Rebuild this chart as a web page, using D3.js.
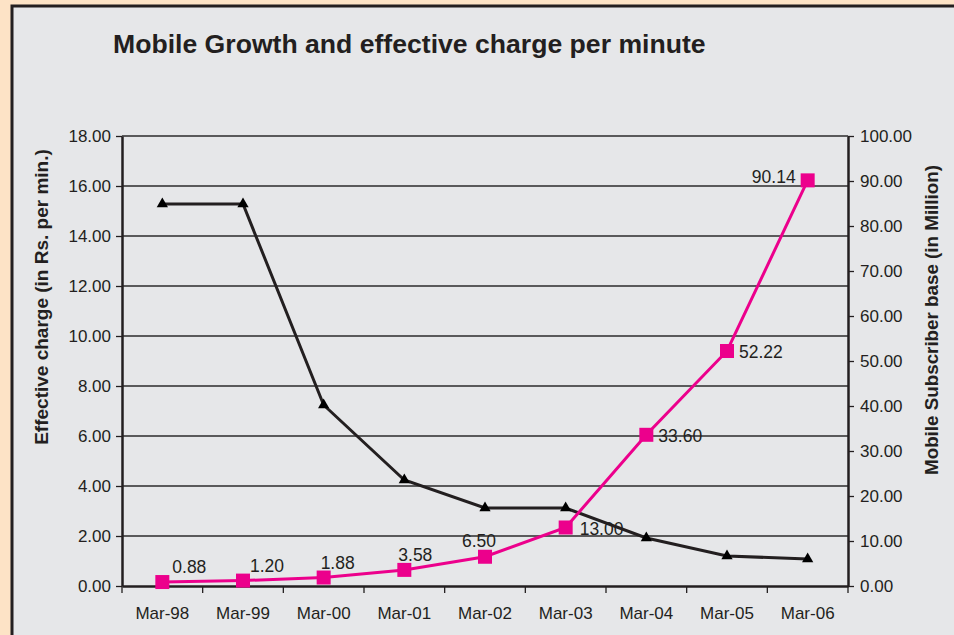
<!DOCTYPE html>
<meta charset="utf-8">
<script src="https://d3js.org/d3.v7.min.js"></script>
<style>
  body { margin: 0; background: #fde3c6; }
  text { font-family: "Liberation Sans", Arial, sans-serif; }
</style>
<div id="chart"></div>
<script>

var months = ["Mar-98", "Mar-99", "Mar-00", "Mar-01", "Mar-02", "Mar-03", "Mar-04", "Mar-05", "Mar-06"];
var effectiveCharge = [15.28, 15.28, 7.24, 4.24, 3.12, 3.12, 1.92, 1.2, 1.08];
var subscribers = [0.88, 1.20, 1.88, 3.58, 6.50, 13.00, 33.60, 52.22, 90.14];
var leftTicks = [0, 2, 4, 6, 8, 10, 12, 14, 16, 18];
var rightTicks = [0, 10, 20, 30, 40, 50, 60, 70, 80, 90, 100];

// label placement (dx, dy, anchor) per point
var labelDx = [27, 24, 14, 11, -6, 14, 12, 12, -12];
var labelDy = [-9, -9, -9, -9, -10, 7, 7, 7, 3];
var labelAnchor = ["middle", "middle", "middle", "middle", "middle", "start", "start", "start", "end"];

var W = 954, H = 635;
var margin = {top: 136, right: 106, bottom: 49, left: 122};
var width = W - margin.left - margin.right,
    height = H - margin.top - margin.bottom;

var svg = d3.select("#chart").append("svg")
    .attr("width", W)
    .attr("height", H);

// panel
svg.append("rect")
    .attr("x", 12).attr("y", 6)
    .attr("width", W + 10).attr("height", H + 10)
    .attr("fill", "#e6e7e9")
    .attr("stroke", "#231f20")
    .attr("stroke-width", 3);

svg.append("text")
    .attr("x", 113)
    .attr("y", 53)
    .style("font-size", "26.6px")
    .style("font-weight", "bold")
    .attr("fill", "#231f20")
    .text("Mobile Growth and effective charge per minute");

var g = svg.append("g")
    .attr("transform", "translate(" + margin.left + "," + margin.top + ")");

var x = d3.scaleBand().domain(months).range([0, width]);
var yL = d3.scaleLinear().domain([0, 18]).range([height, 0]);
var yR = d3.scaleLinear().domain([0, 100]).range([height, 0]);

// gridlines
g.selectAll(".grid")
    .data(leftTicks.slice(1))
    .enter().append("line")
    .attr("x1", 0).attr("x2", width)
    .attr("y1", function(d) { return yL(d); })
    .attr("y2", function(d) { return yL(d); })
    .attr("stroke", "#2b2b2b")
    .attr("stroke-width", 1.3);

var yAxisL = g.append("g")
    .call(d3.axisLeft(yL).tickValues(leftTicks).tickFormat(d3.format(".2f")).tickSize(6).tickSizeOuter(0));

var yAxisR = g.append("g")
    .attr("transform", "translate(" + width + ",0)")
    .call(d3.axisRight(yR).tickValues(rightTicks).tickFormat(d3.format(".2f")).tickSize(6).tickSizeOuter(0));

var tickEdges = d3.range(months.length + 1).map(function(i) { return i * x.step(); });
var xAxis = g.append("g")
    .attr("transform", "translate(0," + height + ")")
    .call(d3.axisBottom(x).tickSize(0).tickSizeOuter(0));
xAxis.selectAll(".edge")
    .data(tickEdges)
    .enter().append("line")
    .attr("x1", function(d) { return d; })
    .attr("x2", function(d) { return d; })
    .attr("y1", 0).attr("y2", 7)
    .attr("stroke", "#231f20")
    .attr("stroke-width", 1.3);
xAxis.selectAll(".tick text").attr("dy", "1.75em");

[yAxisL, yAxisR, xAxis].forEach(function(a) {
  a.select(".domain").attr("stroke", "#231f20").attr("stroke-width", 2.5);
  a.selectAll(".tick line").attr("stroke", "#231f20").attr("stroke-width", 1.3);
  a.selectAll(".tick text")
      .style("font-size", "17px")
      .style("font-family", "Liberation Sans, Arial, sans-serif")
      .attr("fill", "#231f20");
});
yAxisL.selectAll(".tick text").attr("x", -11);
yAxisR.selectAll(".tick text").attr("x", 12);

// axis titles
svg.append("text")
    .attr("transform", "translate(48,297) rotate(-90)")
    .attr("text-anchor", "middle")
    .style("font-size", "19px")
    .style("font-weight", "bold")
    .attr("fill", "#231f20")
    .text("Effective charge (in Rs. per min.)");

svg.append("text")
    .attr("transform", "translate(938,320) rotate(-90)")
    .attr("text-anchor", "middle")
    .style("font-size", "18.8px")
    .style("font-weight", "bold")
    .attr("fill", "#231f20")
    .text("Mobile Subscriber base (in Million)");

var cx = function(i) { return x(months[i]) + x.bandwidth() / 2; };

// effective charge line
g.append("path")
    .datum(effectiveCharge)
    .attr("fill", "none")
    .attr("stroke", "#231f20")
    .attr("stroke-width", 3)
    .attr("d", d3.line().x(function(d, i) { return cx(i); }).y(function(d) { return yL(d); }));

g.selectAll(".tri")
    .data(effectiveCharge)
    .enter().append("path")
    .attr("transform", function(d, i) { return "translate(" + cx(i) + "," + yL(d) + ")"; })
    .attr("d", d3.symbol().type(d3.symbolTriangle).size(55))
    .attr("fill", "#000");

// subscriber line
g.append("path")
    .datum(subscribers)
    .attr("fill", "none")
    .attr("stroke", "#ec008c")
    .attr("stroke-width", 3)
    .attr("d", d3.line().x(function(d, i) { return cx(i); }).y(function(d) { return yR(d); }));

g.selectAll(".sq")
    .data(subscribers)
    .enter().append("rect")
    .attr("x", function(d, i) { return cx(i) - 7; })
    .attr("y", function(d) { return yR(d) - 7; })
    .attr("width", 14).attr("height", 14)
    .attr("fill", "#ec008c");

g.selectAll(".lbl")
    .data(subscribers)
    .enter().append("text")
    .attr("x", function(d, i) { return cx(i) + labelDx[i]; })
    .attr("y", function(d, i) { return yR(d) + labelDy[i]; })
    .attr("text-anchor", function(d, i) { return labelAnchor[i]; })
    .style("font-size", "17.5px")
    .attr("fill", "#231f20")
    .text(function(d) { return d3.format(".2f")(d); });

</script>
